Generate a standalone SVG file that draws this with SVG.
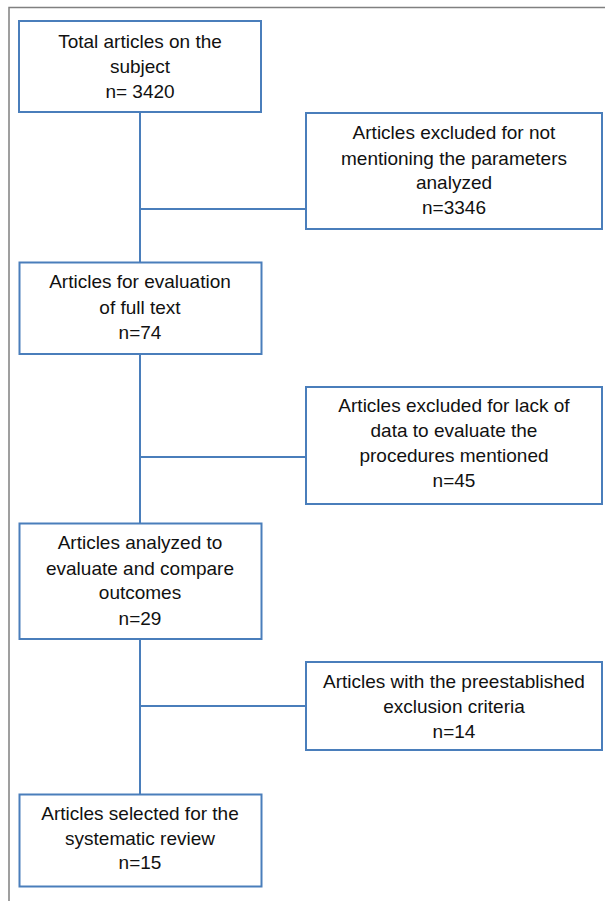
<svg xmlns="http://www.w3.org/2000/svg" width="605" height="901" viewBox="0 0 605 901">
<style>
.box{fill:#fff;stroke:#4a7ebb;stroke-width:2}
.ln{stroke:#4a7ebb;stroke-width:2;fill:none}
text{font-family:"Liberation Sans",Arial,sans-serif;font-size:19px;fill:#111;text-anchor:middle}
</style>
<rect width="605" height="901" fill="#fff"/>
<path d="M9,901 V7.5 H605" fill="none" stroke="#808080" stroke-width="1.5"/>
<g id="connectors">
<path class="ln" d="M140,112 V262"/>
<path class="ln" d="M140,209 H306"/>
<path class="ln" d="M140,354 V523"/>
<path class="ln" d="M140,457 H306"/>
<path class="ln" d="M140,639 V794"/>
<path class="ln" d="M140,706 H306"/>
</g>
<g id="n1">
<rect class="box" x="19" y="21" width="242" height="91"/>
<text x="140" y="48">Total articles on the</text>
<text x="140" y="73">subject</text>
<text x="140" y="98">n= 3420</text>
</g>
<g id="n2">
<rect class="box" x="306" y="113" width="296" height="116"/>
<text x="454" y="139">Articles excluded for not</text>
<text x="454" y="165">mentioning the parameters</text>
<text x="454" y="189">analyzed</text>
<text x="454" y="214">n=3346</text>
</g>
<g id="n3">
<rect class="box" x="19.5" y="262.5" width="242" height="91.5"/>
<text x="140" y="288">Articles for evaluation</text>
<text x="140" y="313.5">of full text</text>
<text x="140" y="339">n=74</text>
</g>
<g id="n4">
<rect class="box" x="306" y="387" width="296" height="117"/>
<text x="454" y="412">Articles excluded for lack of</text>
<text x="454" y="437">data to evaluate the</text>
<text x="454" y="462">procedures mentioned</text>
<text x="454" y="487">n=45</text>
</g>
<g id="n5">
<rect class="box" x="19.5" y="523.5" width="242" height="115.5"/>
<text x="140" y="549">Articles analyzed to</text>
<text x="140" y="575">evaluate and compare</text>
<text x="140" y="599">outcomes</text>
<text x="140" y="625">n=29</text>
</g>
<g id="n6">
<rect class="box" x="306" y="662" width="296" height="88"/>
<text x="454" y="688">Articles with the preestablished</text>
<text x="454" y="713">exclusion criteria</text>
<text x="454" y="738">n=14</text>
</g>
<g id="n7">
<rect class="box" x="19.5" y="794.5" width="242" height="92"/>
<text x="140" y="820">Articles selected for the</text>
<text x="140" y="845">systematic review</text>
<text x="140" y="869">n=15</text>
</g>
</svg>
